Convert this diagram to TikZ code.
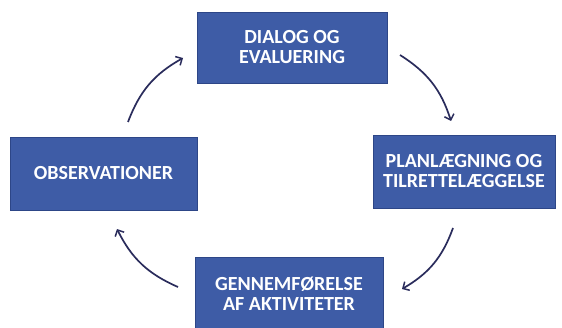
\documentclass[tikz,border=0pt]{standalone}
\usepackage{fontspec}
\setmainfont{Carlito}
\usetikzlibrary{arrows.meta}
\definecolor{boxblue}{RGB}{62,92,166}
\definecolor{boxedge}{RGB}{45,70,135}
\definecolor{arrowcol}{RGB}{42,44,92}
\tikzset{
  stepbox/.style={draw=boxedge, line width=0.8pt, fill=boxblue, text=white,
    font=\fontsize{20}{20}\selectfont\bfseries, align=center, inner sep=0pt},
  cyc/.style={draw=arrowcol, line width=1.7pt, -{Straight Barb[length=5pt,width=10pt,line width=1.5pt]}, bend left=20}
}
\begin{document}
\begin{tikzpicture}[x=1pt,y=1pt]
\useasboundingbox (0,0) rectangle (562,327);
\clip (0,0) rectangle (562,327);
\fill[white] (0,0) rectangle (562,327);
\node[stepbox, minimum width=190pt, minimum height=71pt] (dialog) at (292,279.5) {DIALOG OG\\EVALUERING};
\node[stepbox, minimum width=182pt, minimum height=73pt] (plan) at (464,155.5) {PLANLÆGNING OG\\TILRETTELÆGGELSE};
\node[stepbox, minimum width=187pt, minimum height=73pt] (obs) at (103.5,153.5) {OBSERVATIONER};
\node[stepbox, minimum width=188pt, minimum height=74pt] (gen) at (289,33) {GENNEMFØRELSE\\AF AKTIVITETER};
\coordinate (a1s) at (400,272);
\coordinate (a1e) at (451,206);
\coordinate (a2s) at (453,99);
\coordinate (a2e) at (402,38);
\coordinate (a3s) at (178,40);
\coordinate (a3e) at (117,98);
\coordinate (a4s) at (128,205);
\coordinate (a4e) at (183,269);
\draw[cyc] (a1s) to (a1e);
\draw[cyc] (a2s) to (a2e);
\draw[cyc] (a3s) to (a3e);
\draw[cyc] (a4s) to (a4e);
\end{tikzpicture}
\end{document}
